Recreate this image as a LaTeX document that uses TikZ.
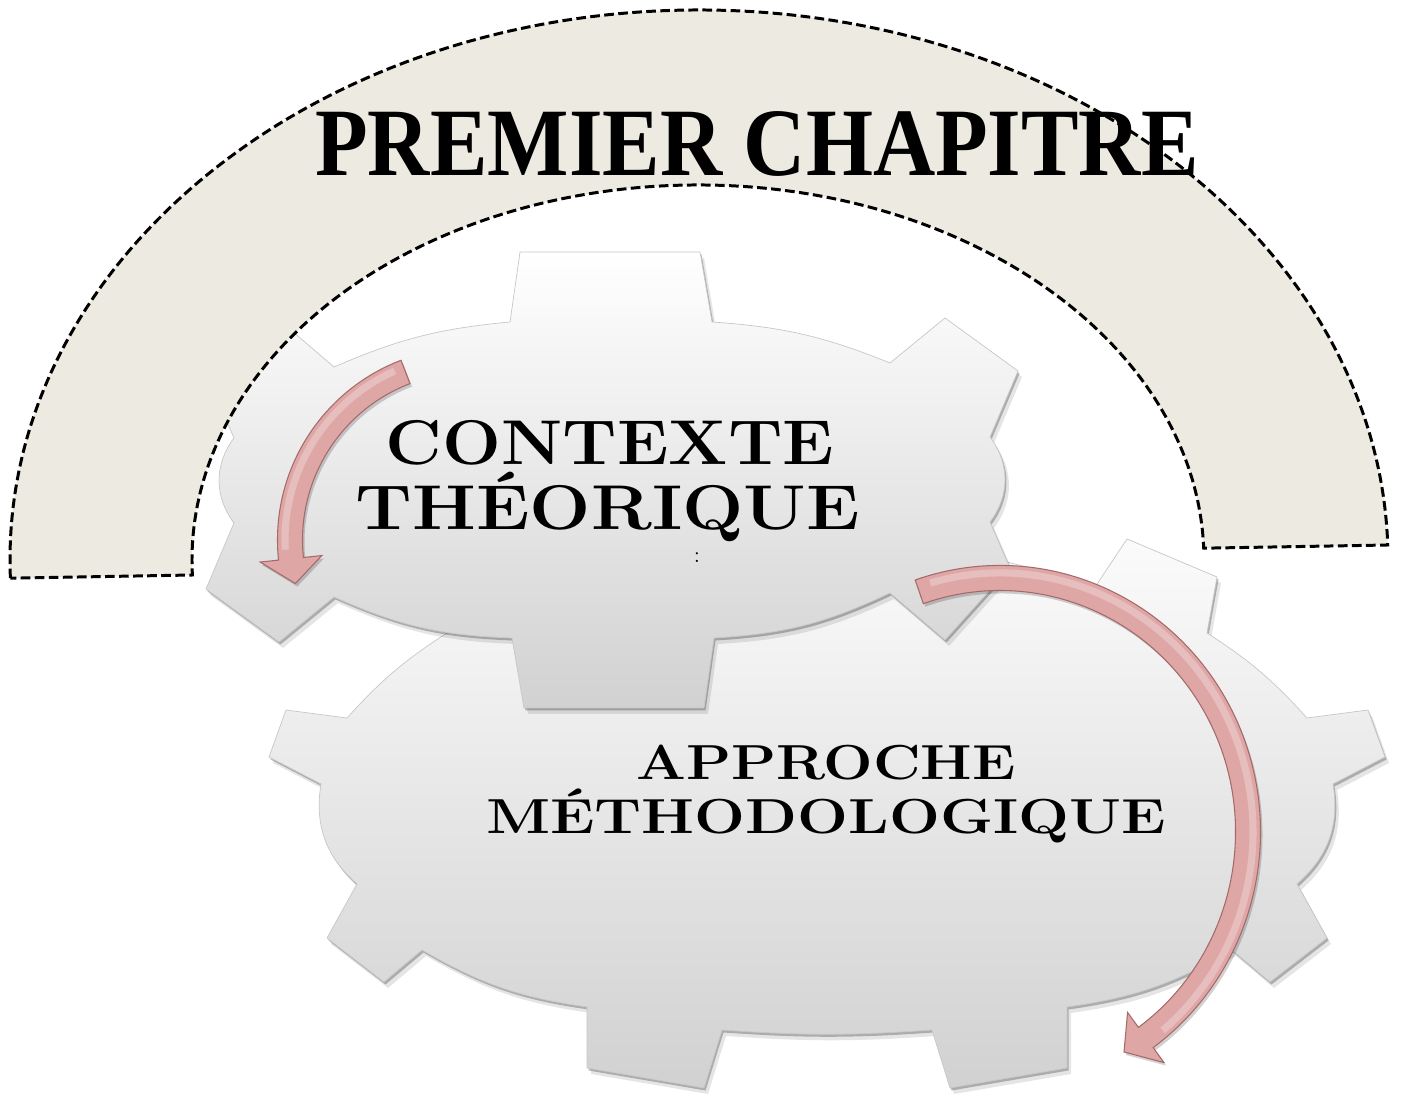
\documentclass[tikz,border=0pt]{standalone}
\usepackage{fontspec}
\usepackage{graphicx}
\newfontfamily\titlefont{Liberation Serif}
\definecolor{archfill}{RGB}{237,235,225}
\definecolor{pinkA}{RGB}{223,166,166}
\definecolor{pinkD}{RGB}{165,105,105}
\def\gearU{(510,789) -- (520,859) -- (700,859) -- (712,789) to[bend left=9] (890,748) -- (945,793) -- (1018,740) -- (990,674) to[bend left=37] (990,589) -- (1010,543) -- (945,471) -- (890,518) to[bend left=11] (714,473) -- (704,403) -- (524,403) -- (512,473) to[bend left=11] (334,514) -- (279,469) -- (206,522) -- (234,588) to[bend left=37] (234,673) -- (214,719) -- (279,791) -- (334,744) to[bend left=9] (510,789) -- cycle}
\def\gearL{(762,563) -- (772,623) -- (882,623) -- (892,563) to[bend left=9.5] (1093,521) -- (1127,572) -- (1217,534) -- (1207,478) to[bend left=7.5] (1307,393) -- (1368,401) -- (1385,354) -- (1333,327) to[bend left=29] (1297,227) -- (1327,173) -- (1270,129) -- (1232,161) to[bend left=11] (1067,104) -- (1067,43) -- (950,23) -- (932,81) to[bend left=4] (722,81) -- (704,23) -- (587,43) -- (587,104) to[bend left=11] (422,161) -- (384,129) -- (327,173) -- (357,227) to[bend left=29] (321,327) -- (269,354) -- (286,401) -- (347,393) to[bend left=7.5] (447,478) -- (437,534) -- (527,572) -- (561,521) to[bend left=9.5] (762,563) -- cycle}
\begin{document}
\begin{tikzpicture}[x=0.02cm,y=0.02cm,
  gearbody/.style={draw=black!22, line width=0.4pt, top color=white, bottom color=black!18},
  gearshadow/.style={fill=black, opacity=0.25},
  gearsoft/.style={fill=black, opacity=0.10},
  archshape/.style={fill=archfill, draw=black, line width=1.7pt, dash pattern=on 5.5pt off 2.5pt},
  arrowbody/.style={fill=pinkA, draw=pinkD, line width=0.6pt},
  arrowshadow/.style={fill=black, opacity=0.18},
  arrowhl/.style={draw=white, opacity=0.28, line width=4pt},
  gtext/.style={anchor=base, inner sep=0pt}]
\useasboundingbox (0,0) rectangle (1412,1111);

% lower gear
\path[gearsoft, shift={(4,-6)}] \gearL;
\path[gearshadow, shift={(1.5,-2.5)}] \gearL;
\path[gearbody] \gearL;

% upper gear
\path[gearsoft, shift={(4,-6)}] \gearU;
\path[gearshadow, shift={(1.5,-2.5)}] \gearU;
\path[gearbody] \gearU;

% arch
\path[archshape] (10.4,532.8) arc[start angle=181.9, end angle=1.56, x radius=689, y radius=550]
  -- (1203.7,562.8) arc[start angle=1.8, end angle=182.3, x radius=506, y radius=375] -- cycle;

% arrow in upper gear
\begin{scope}[shift={(470,571)}]
  \path[arrowshadow, shift={(2,-3)}] (111:192.5) arc[start angle=111, end angle=186, radius=192.5]
    -- (186:211) -- (194:180) -- (186:149) -- (186:167.5)
    arc[start angle=186, end angle=111, radius=167.5] -- cycle;
  \path[arrowbody] (111:192.5) arc[start angle=111, end angle=186, radius=192.5]
    -- (186:211) -- (194:180) -- (186:149) -- (186:167.5)
    arc[start angle=186, end angle=111, radius=167.5] -- cycle;
  \path[arrowhl] (114:185) arc[start angle=114, end angle=183, radius=185];
\end{scope}

% arrow around lower gear
\begin{scope}[shift={(1000,279)}]
  \path[arrowshadow, shift={(2,-3)}] (109:260.5 and 266.5) arc[start angle=109, end angle=-54, x radius=260.5, y radius=266.5]
    -- (-54:279 and 285) -- (-60:248 and 254) -- (-54:217 and 223) -- (-54:235.5 and 241.5)
    arc[start angle=-54, end angle=109, x radius=235.5, y radius=241.5] -- cycle;
  \path[arrowbody] (109:260.5 and 266.5) arc[start angle=109, end angle=-54, x radius=260.5, y radius=266.5]
    -- (-54:279 and 285) -- (-60:248 and 254) -- (-54:217 and 223) -- (-54:235.5 and 241.5)
    arc[start angle=-54, end angle=109, x radius=235.5, y radius=241.5] -- cycle;
  \path[arrowhl] (106:253 and 259) arc[start angle=106, end angle=-50, x radius=253, y radius=259];
\end{scope}

% texts
\node[gtext] (title) at (757,935) {\titlefont\bfseries\fontsize{55}{55}\selectfont\resizebox{502.8pt}{\height}{PREMIER CHAPITRE}};
\node[gtext] (ctxA) at (610,646) {\fontsize{36}{36}\selectfont\bfseries\resizebox{255pt}{\height}{CONTEXTE}};
\node[gtext] (ctxB) at (608,581) {\fontsize{36}{36}\selectfont\bfseries\resizebox{287pt}{\height}{THÉORIQUE}};
\node[inner sep=0pt] (colon) at (697,553) {\fontsize{13}{13}\selectfont :};
\node[gtext] (appA) at (826,331) {\fontsize{28}{28}\selectfont\bfseries\resizebox{216pt}{\height}{APPROCHE}};
\node[gtext] (appB) at (826,277) {\fontsize{28}{28}\selectfont\bfseries\resizebox{387pt}{\height}{MÉTHODOLOGIQUE}};
\end{tikzpicture}
\end{document}
